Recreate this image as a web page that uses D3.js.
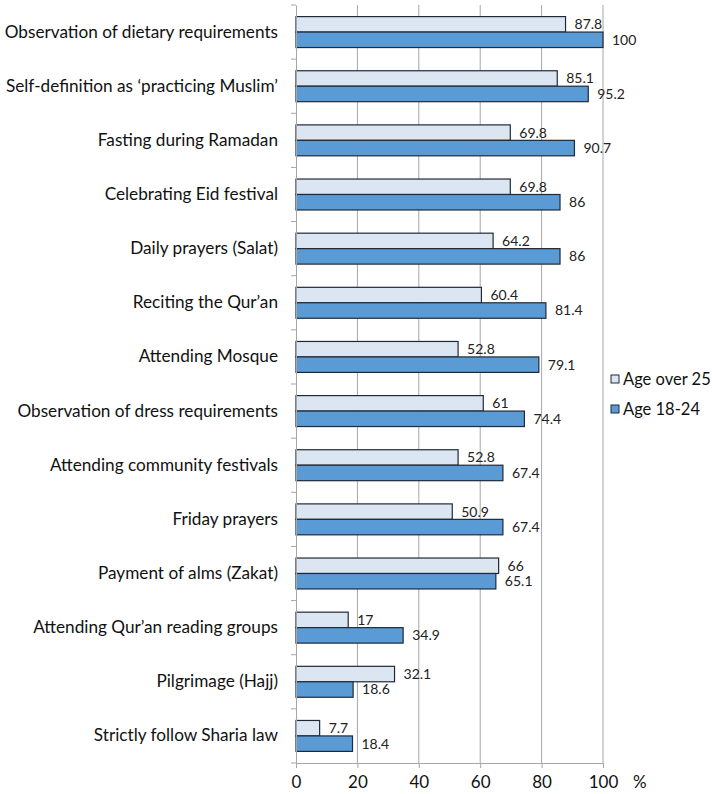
<!DOCTYPE html>
<html><head><meta charset="utf-8">
<script src="https://cdn.jsdelivr.net/npm/d3@7"></script>
<style>body{margin:0;background:#fff;} svg{display:block;font-family:Lato, "Open Sans", sans-serif;}</style>
</head><body>
<svg id="c" width="712" height="794"></svg>
<script>
const categories = ["Observation of dietary requirements","Self-definition as \u2018practicing Muslim\u2019","Fasting during Ramadan","Celebrating Eid festival","Daily prayers (Salat)","Reciting the Qur\u2019an","Attending Mosque","Observation of dress requirements","Attending community festivals","Friday prayers","Payment of alms (Zakat)","Attending Qur\u2019an reading groups","Pilgrimage (Hajj)","Strictly follow Sharia law"];
const ageOver25 = [87.8,85.1,69.8,69.8,64.2,60.4,52.8,61,52.8,50.9,66,17,32.1,7.7];
const age18to24 = [100,95.2,90.7,86,86,81.4,79.1,74.4,67.4,67.4,65.1,34.9,18.6,18.4];
const seriesNames = ["Age over 25","Age 18-24"];
const xTicks = [0,20,40,60,80,100];
const colors = ["#dce6f2","#5b9bd5"];

const svg = d3.select("#c");
const x = d3.scaleLinear().domain([0,100]).range([296,603]);
const y = d3.scaleBand().domain(categories).range([5,763]).paddingInner(0).paddingOuter(0);
const inner = d3.scaleBand().domain([0,1]).range([0,y.bandwidth()]).paddingOuter(0.75).paddingInner(0);

// gridlines
svg.append("g").selectAll("line").data(xTicks.slice(1)).join("line")
  .attr("x1",d=>x(d)).attr("x2",d=>x(d)).attr("y1",5).attr("y2",763)
  .attr("stroke","#a6a6a6").attr("stroke-width",1);

// bars
const series = [ageOver25, age18to24];
series.forEach((vals,si)=>{
  const g = svg.append("g");
  g.selectAll("rect").data(vals).join("rect")
    .attr("x",x(0)).attr("y",(d,i)=>y(categories[i])+inner(si))
    .attr("width",d=>x(d)-x(0)).attr("height",inner.bandwidth())
    .attr("fill",colors[si]).attr("stroke","#1f2a36").attr("stroke-width",1.2);
  g.selectAll("text").data(vals).join("text")
    .attr("x",d=>x(d)+9).attr("y",(d,i)=>y(categories[i])+inner(si)+inner.bandwidth()/2)
    .attr("dy","0.35em").attr("font-size",14).attr("fill","#222")
    .text(d=>d);
});

// left axis
const yAxis = d3.axisLeft(y).tickSize(0).tickPadding(18);
const ya = svg.append("g").attr("transform",`translate(${x(0)},0)`).call(yAxis);
ya.select(".domain").attr("stroke","#a6a6a6");
ya.selectAll("text").attr("font-size",17.2).attr("fill","#111").attr("font-family","Lato, sans-serif");
// band boundary ticks
svg.append("g").selectAll("line").data(d3.range(categories.length+1)).join("line")
  .attr("x1",x(0)-5).attr("x2",x(0))
  .attr("y1",i=>5+i*y.step()).attr("y2",i=>5+i*y.step())
  .attr("stroke","#a6a6a6");

// bottom axis
const xAxis = d3.axisBottom(x).tickValues(xTicks).tickSize(5).tickPadding(8).tickFormat(d3.format("d"));
const xa = svg.append("g").attr("transform","translate(0,763)").call(xAxis);
xa.select(".domain").attr("stroke","#a6a6a6");
xa.selectAll("line").attr("stroke","#a6a6a6");
xa.selectAll("text").attr("font-size",17).attr("fill","#111").attr("font-family","Lato, sans-serif");
svg.append("text").attr("x",633).attr("y",788).attr("font-size",17).attr("fill","#111").text("%");

// legend
const lg = svg.append("g");
seriesNames.forEach((n,i)=>{
  const yy = 379 + i*30;
  lg.append("rect").attr("x",611).attr("y",yy-4).attr("width",8).attr("height",8)
    .attr("fill",colors[i]).attr("stroke","#1f2a36").attr("stroke-width",1);
  lg.append("text").attr("x",623).attr("y",yy).attr("dy","0.35em").attr("font-size",16.5).attr("fill","#111").text(n);
});
</script>
</body></html>
